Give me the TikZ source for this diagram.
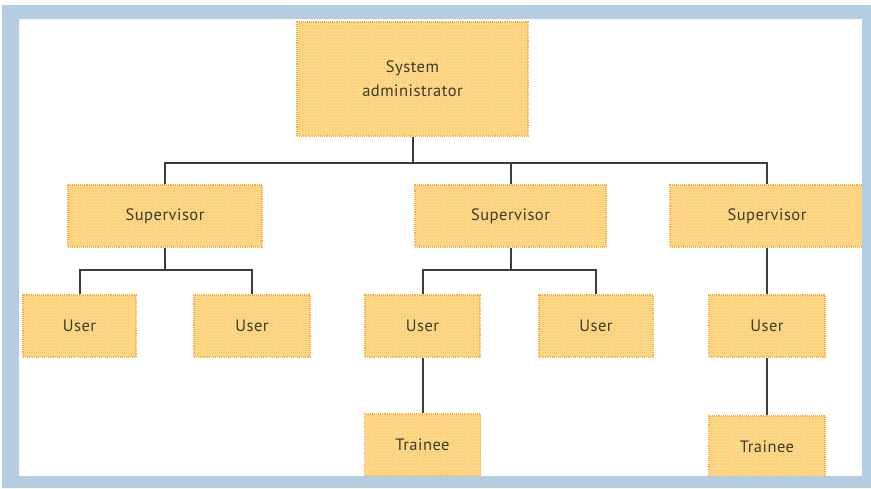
\documentclass[tikz,border=0pt]{standalone}
\usepackage{fontspec}
\setmainfont{PT Sans}[LetterSpace=3]
\usetikzlibrary{patterns}
\definecolor{frameblue}{RGB}{180,205,227}
\definecolor{boxfill}{RGB}{252,208,125}
\definecolor{boxdot}{RGB}{255,240,165}
\definecolor{boxline}{RGB}{248,168,55}
\definecolor{txt}{RGB}{60,60,45}
\definecolor{conn}{RGB}{60,60,60}
\tikzset{
  box/.style={rectangle, inner sep=0pt, fill=boxfill, draw=boxline, densely dotted, line width=1.1pt,
    postaction={pattern=crosshatch dots, pattern color=boxdot},
    text=txt, font=\fontsize{16.5}{24}\selectfont, align=center},
  link/.style={draw=conn, line width=2pt}
}
\begin{document}
\begin{tikzpicture}[x=1pt,y=-1pt]
\useasboundingbox (0,0) rectangle (871,488);
% nodes
\node[box, minimum width=231pt, minimum height=114pt] (sa) at (412.5,79) {System\\administrator};
\node[box, minimum width=194pt, minimum height=62pt] (sup1) at (165,216) {Supervisor};
\node[box, minimum width=191pt, minimum height=62pt] (sup2) at (510.5,216) {Supervisor};
\node[box, minimum width=194pt, minimum height=62pt] (sup3) at (767,216) {Supervisor};
\node[box, minimum width=113pt, minimum height=62pt] (u1) at (79.5,326) {User};
\node[box, minimum width=116pt, minimum height=62pt] (u2) at (252,326) {User};
\node[box, minimum width=115pt, minimum height=62pt] (u3) at (422.5,326) {User};
\node[box, minimum width=114pt, minimum height=62pt] (u4) at (596,326) {User};
\node[box, minimum width=116pt, minimum height=62pt] (u5) at (767,326) {User};
\node[box, minimum width=116pt, minimum height=62pt] (t1) at (422.5,445) {Trainee};
\node[box, minimum width=116pt, minimum height=62pt] (t2) at (767,447) {Trainee};
% bus coordinates
\coordinate (b0) at (412.5,163);
\coordinate (b1) at (165,270);
\coordinate (b2) at (510.5,270);
% connectors
\draw[link] (sa.south) -- (b0);
\draw[link] (sup1.north) |- (b0) -| (sup3.north);
\draw[link] (sup2.north) -- (sup2.north |- b0);
\draw[link] (sup1.south) -- (b1);
\draw[link] (u1.north) |- (b1) -| (u2.north);
\draw[link] (sup2.south) -- (b2);
\draw[link] (u3.north) |- (b2) -| (u4.north);
\draw[link] (sup3.south) -- (u5.north);
\draw[link] (u5.south) -- (t2.north);
\draw[link] (u3.south) -- (t1.north);
% frame
\fill[frameblue, even odd rule] (2,5) rectangle (871,488) (19,19) rectangle (862,476);
\end{tikzpicture}
\end{document}
